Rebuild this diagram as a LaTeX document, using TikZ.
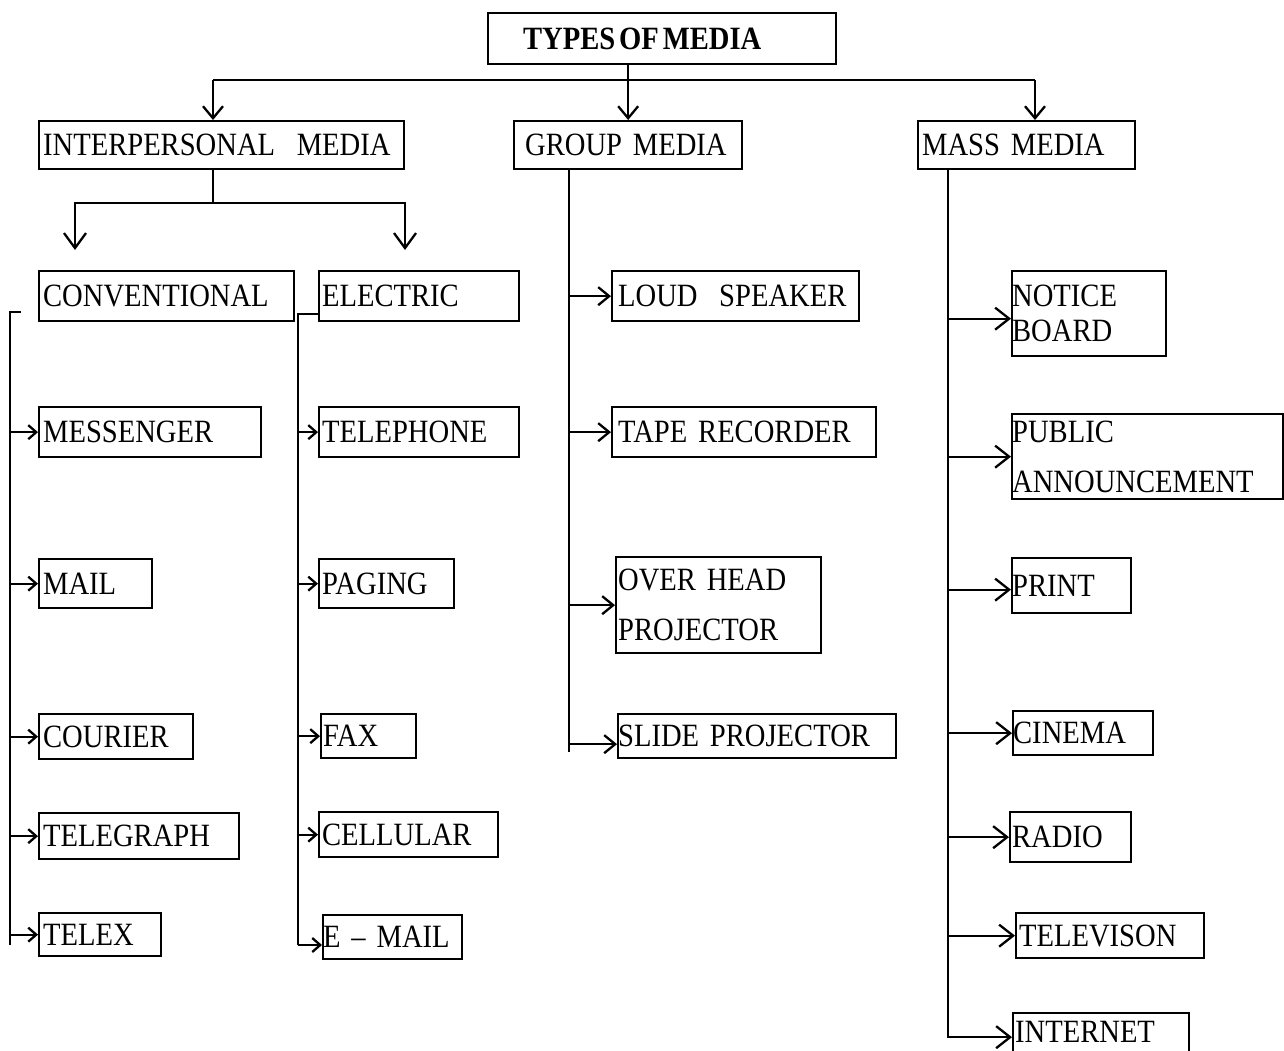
\documentclass[tikz,border=0pt]{standalone}
\usepackage{fontspec}
\setmainfont{Liberation Serif}[FakeStretch=0.88,WordSpace=0.7]
\usetikzlibrary{arrows.meta}
\newcommand\ind[1]{\hspace*{#1pt}}
\begin{document}
\begin{tikzpicture}[x=1pt,y=-1pt,line width=2.3pt,
  bx/.style 2 args={draw, anchor=north west, text width=#1pt, minimum height=#2pt,
    inner xsep=0pt, inner ysep=0pt, align=left, font=\fontsize{32.5}{40}\selectfont},
  tarr/.style={-{Straight Barb[length=12pt,width=20pt]}},
  darr/.style={-{Straight Barb[length=15pt,width=22pt]}},
  sarr/.style={-{Straight Barb[length=8pt,width=14pt]}},
  garr/.style={-{Straight Barb[length=11pt,width=18pt]}},
  marr/.style={-{Straight Barb[length=14pt,width=22pt]}}]
\clip (0,0) rectangle (1284,1050);
% top level
\node[bx={348}{51}] (title) at (487,12) {\bfseries\spaceskip=0.12em\ind{35}TYPES OF MEDIA};
\node[bx={365}{48}] (ip) at (38,120) {\ind{4}INTERPERSONAL~~MEDIA};
\node[bx={228}{48}] (gm) at (513,120) {\ind{11}GROUP MEDIA};
\node[bx={217}{48}] (mm) at (917,120) {\ind{4}MASS MEDIA};
% interpersonal
\node[bx={255}{50}] (conv) at (38,270) {\ind{4}CONVENTIONAL};
\node[bx={200}{50}] (el) at (318,270) {\ind{3}ELECTRIC};
\node[bx={222}{50}] (msg) at (38,406) {\ind{4}MESSENGER};
\node[bx={113}{49}] (mail) at (38,558) {\ind{4}MAIL};
\node[bx={154}{45}] (cour) at (38,713) {\ind{4}COURIER};
\node[bx={200}{46}] (tgr) at (38,812) {\ind{4}TELEGRAPH};
\node[bx={122}{43}] (tlx) at (38,912) {\ind{4}TELEX};
\node[bx={200}{50}] (tel) at (318,406) {\ind{3}TELEPHONE};
\node[bx={135}{49}] (pag) at (318,558) {\ind{3}PAGING};
\node[bx={95}{44}] (fax) at (320,713) {\ind{2}FAX};
\node[bx={179}{45}] (cell) at (318,811) {\ind{3}CELLULAR};
\node[bx={139}{44}] (em) at (322,914) {E – MAIL};
% group
\node[bx={247}{50}] (ls) at (611,270) {\ind{6}LOUD~~SPEAKER};
\node[bx={264}{50}] (tape) at (611,406) {\ind{6}TAPE RECORDER};
\node[bx={205}{96}] (ohp) at (615,556) {\ind{2}OVER HEAD\\[10pt]\ind{2}PROJECTOR};
\node[bx={278}{44}] (slide) at (617,713) {SLIDE PROJECTOR};
% mass
\node[bx={154}{85}] (nb) at (1011,270) {NOTICE\\[-5pt]BOARD};
\node[bx={271}{85}] (pa) at (1011,413) {PUBLIC\\[10pt]ANNOUNCEMENT};
\node[bx={119}{55}] (pr) at (1011,557) {PRINT};
\node[bx={140}{44}] (cin) at (1012,710) {CINEMA};
\node[bx={121}{50}] (rad) at (1009,811) {\ind{2}RADIO};
\node[bx={188}{45}] (tv) at (1015,912) {\ind{3}TELEVISON};
\node[bx={176}{46}] (inet) at (1012,1012) {\ind{2}\raisebox{5pt}[22pt][0pt]{INTERNET}};
% top connectors
\coordinate (busL) at (213,80);
\coordinate (busR) at (1035,80);
\draw (busL) -- (busR);
\draw[tarr] (title.south -| gm.north) -- (gm.north);
\draw[tarr] (busL) -- (busL |- ip.north);
\draw[tarr] (busR) -- (busR |- mm.north);
% interpersonal split
\coordinate (ipS) at (213,203);
\coordinate (cA) at (75,250);
\coordinate (eA) at (405,250);
\draw (ipS |- ip.south) -- (ipS);
\draw[darr] (ipS) -| (cA);
\draw[darr] (ipS) -| (eA);
% conventional bracket
\coordinate (lt) at (10,312);
\coordinate (lb) at (10,945);
\draw ([xshift=11pt]lt) -- (lt) -- (lb);
\foreach \n in {msg,mail,cour,tgr,tlx} \draw[sarr] (lt |- \n.west) -- (\n.west);
% electric bracket
\coordinate (eb) at (298,945);
\draw ([yshift=8pt]el.south west) -| (eb);
\foreach \n in {tel,pag,fax,cell} \draw[sarr] (eb |- \n.west) -- (\n.west);
\draw[sarr] (eb) -- (eb -| em.west);
% group
\coordinate (gb) at (569,752);
\coordinate (slA) at ([yshift=-8pt]slide.west);
\draw (gb |- gm.south) -- (gb);
\foreach \n in {ls,tape,ohp} \draw[garr] (gb |- \n.west) -- (\n.west);
\draw[garr] (gb |- slA) -- (slA);
% mass
\coordinate (mb) at (948,1038);
\coordinate (nbA) at ([yshift=-5pt]nb.west);
\coordinate (prA) at ([yshift=-4pt]pr.west);
\coordinate (inA) at ([yshift=-1pt]inet.west);
\draw (mb |- mm.south) -- (mb);
\draw[marr] (mb |- nbA) -- (nbA);
\draw[marr] (mb |- prA) -- (prA);
\draw[marr] (mb |- inA) -- (inA);
\foreach \n in {pa,cin,rad,tv} \draw[marr] (mb |- \n.west) -- (\n.west);
\end{tikzpicture}
\end{document}
